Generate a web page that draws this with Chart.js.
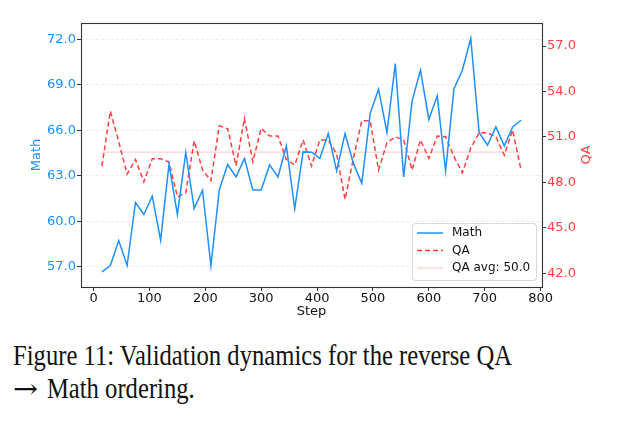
<!DOCTYPE html>
<html>
<head>
<meta charset="utf-8">
<script src="https://cdn.jsdelivr.net/npm/chart.js@4.4.1/dist/chart.umd.min.js"></script>
<style>
  html, body { margin: 0; padding: 0; background: #fff; }
  #wrap { position: relative; width: 626px; height: 423px; overflow: hidden; }
  #box { position: absolute; left: 0; top: 0; width: 626px; height: 330px; }
  #caption { position: absolute; left: 13px; top: 339px; width: 720px; white-space: nowrap;
    font-family: 'Liberation Serif', 'Times New Roman', serif; font-size: 29px; line-height: 33.4px; color: #111;
    transform: scaleX(0.85); transform-origin: 0 0; }
  #caption .arr { font-family: 'DejaVu Serif', serif; font-size: 27px; display: inline-block;
    transform: scaleX(1.3); transform-origin: 0 50%; margin-right: 10px; }
</style>
</head>
<body>
<div id="wrap">
  <div id="box"><canvas id="c" width="626" height="330"></canvas></div>
  <div id="caption">Figure 11: Validation dynamics for the reverse QA<br><span class="arr">→</span> Math ordering.</div>
</div>
<script>
// ---- data ----
const steps = [15,30,45,60,75,90,105,120,135,150,165,180,195,210,225,240,255,270,285,300,
  315,330,345,360,375,390,405,420,435,450,465,480,495,510,525,540,555,570,585,600,
  615,630,645,660,675,690,705,720,735,750,765];
const mathScores = [56.66,57.08,58.73,57.08,61.24,60.45,61.66,58.75,63.77,60.45,
  64.54,60.84,62.05,57.06,62.08,63.75,62.93,64.14,62.07,62.07,
  63.72,62.93,64.98,60.84,64.58,64.56,64.16,65.79,63.33,65.79,
  63.82,62.51,67.11,68.72,65.86,70.41,62.93,67.93,69.97,66.72,
  68.28,63.33,68.76,69.97,72.07,65.86,65.02,66.23,64.98,66.23,66.67];
const qaScores = [49.08,52.71,50.68,48.55,49.52,48.04,49.56,49.56,49.34,47.05,
  47.32,50.75,48.82,48.11,51.74,51.54,49.10,52.23,49.36,51.57,
  51.06,51.06,49.52,49.15,50.80,49.08,50.80,50.80,49.87,46.88,
  49.59,52.07,52.07,48.82,50.62,51.01,50.80,48.82,50.80,49.59,
  51.06,51.01,49.70,48.64,50.25,51.28,51.28,51.01,49.80,51.46,48.82];
const qaAvg = 50.0;
const xTicks = [0,100,200,300,400,500,600,700,800];
const mathTicks = [57,60,63,66,69,72];
const qaTicks = [42,45,48,51,54,57];

const BLUE = '#1e90ff';
const RED = '#ff4040';
const FONT = "'DejaVu Sans', sans-serif";

const mathData = steps.map((s,i)=>({x:s,y:mathScores[i]}));
const qaData = steps.map((s,i)=>({x:s,y:qaScores[i]}));
const avgData = [{x:steps[0],y:qaAvg},{x:steps[steps.length-1],y:qaAvg}];

const frameAndLabels = {
  id:'frameAndLabels',
  afterDraw(chart){
    const ctx = chart.ctx, a = chart.chartArea;
    ctx.save();
    ctx.strokeStyle = '#333'; ctx.lineWidth = 1.1;
    ctx.strokeRect(Math.round(a.left)+0.5, Math.round(a.top)+0.5, Math.round(a.right-a.left), Math.round(a.bottom-a.top));
    // axis titles
    ctx.font = '13px ' + FONT;
    ctx.textAlign = 'center'; ctx.textBaseline = 'middle';
    ctx.fillStyle = '#111';
    ctx.fillText('Step', (a.left+a.right)/2, 312);
    const cy = (a.top+a.bottom)/2;
    ctx.save(); ctx.translate(37, cy); ctx.rotate(-Math.PI/2);
    ctx.fillStyle = BLUE; ctx.fillText('Math', 0, 0); ctx.restore();
    ctx.save(); ctx.translate(587, cy); ctx.rotate(-Math.PI/2);
    ctx.fillStyle = RED; ctx.fillText('QA', 0, 0); ctx.restore();
    // legend
    ctx.font = '12px ' + FONT;
    const bw = 124, bh = 57;
    const bx = a.right - 6 - bw, by = a.bottom - 7 - bh;
    ctx.beginPath();
    if (ctx.roundRect) ctx.roundRect(bx+0.5, by+0.5, bw, bh, 3); else ctx.rect(bx+0.5,by+0.5,bw,bh);
    ctx.fillStyle = 'rgba(255,255,255,0.85)'; ctx.fill();
    ctx.strokeStyle = 'rgba(0,0,0,0.15)'; ctx.lineWidth = 1; ctx.stroke();
    const items = chart.data.datasets;
    items.forEach((ds,i)=>{
      const y = by + 10 + i*17.5;
      ctx.beginPath();
      ctx.setLineDash(ds.borderDash || []);
      ctx.strokeStyle = ds.borderColor; ctx.lineWidth = ds.borderWidth;
      ctx.moveTo(bx+5, y); ctx.lineTo(bx+31, y); ctx.stroke();
      ctx.setLineDash([]);
      ctx.fillStyle = '#111'; ctx.textAlign = 'left';
      ctx.fillText(ds.label, bx+40, y);
    });
    ctx.restore();
  }
};

new Chart(document.getElementById('c'), {
  type:'line',
  data:{ datasets:[
    {label:'Math', data:mathData, yAxisID:'y', borderColor:BLUE, borderWidth:1.5, pointRadius:0, tension:0, fill:false},
    {label:'QA', data:qaData, yAxisID:'y2', borderColor:RED, borderWidth:1.5, borderDash:[5,3], pointRadius:0, tension:0, fill:false},
    {label:'QA avg: ' + qaAvg.toFixed(1), data:avgData, yAxisID:'y2', borderColor:'rgba(255,64,64,0.3)', borderWidth:1, pointRadius:0, fill:false}
  ]},
  options:{
    responsive:false, animation:false, devicePixelRatio:1,
    layout:{padding:{top:23,left:0,right:0,bottom:0}},
    plugins:{legend:{display:false}, tooltip:{enabled:false}},
    scales:{
      x:{type:'linear', min:-22.5, max:802.5,
        afterBuildTicks:s=>{s.ticks = xTicks.map(v=>({value:v}));},
        afterFit:s=>{s.height = 43;},
        grid:{drawOnChartArea:false, drawTicks:true, tickLength:4, color:'#333'},
        border:{display:false},
        ticks:{color:'#111', font:{family:FONT,size:13}, padding:0, maxRotation:0, autoSkip:false}
      },
      y:{type:'linear', position:'left', min:55.66, max:73.09,
        afterBuildTicks:s=>{s.ticks = mathTicks.map(v=>({value:v}));},
        afterFit:s=>{s.width = 81;},
        grid:{drawOnChartArea:true, drawTicks:true, tickLength:4, color:'rgba(0,0,0,0.07)', tickColor:'#333'},
        border:{display:false, dash:[3,2]},
        ticks:{color:BLUE, font:{family:FONT,size:13}, padding:1, callback:v=>v.toFixed(1)}
      },
      y2:{type:'linear', position:'right', min:41.1, max:58.52,
        afterBuildTicks:s=>{s.ticks = qaTicks.map(v=>({value:v}));},
        afterFit:s=>{s.width = 84;},
        grid:{drawOnChartArea:false, drawTicks:true, tickLength:4, color:'#333'},
        border:{display:false},
        ticks:{color:RED, font:{family:FONT,size:13}, padding:1, callback:v=>v.toFixed(1)}
      }
    }
  },
  plugins:[frameAndLabels]
});
</script>
</body>
</html>
